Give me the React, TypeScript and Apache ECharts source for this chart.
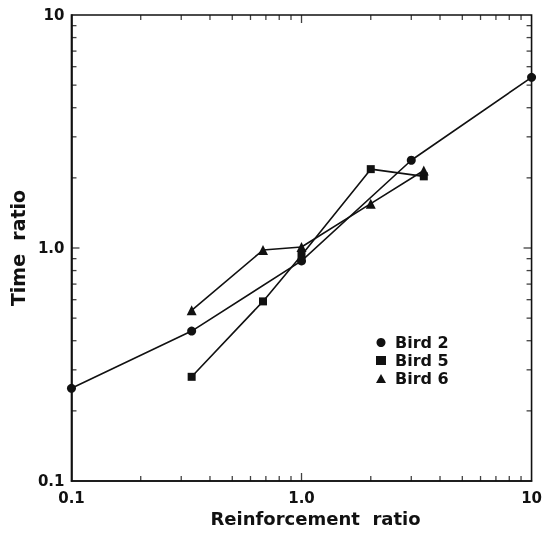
import React, { useEffect, useRef } from "react";
import * as echarts from "echarts";

const bird2X = [0.1, 0.333, 1.0, 3.0, 10];
const bird2Y = [0.25, 0.44, 0.88, 2.38, 5.4];
const bird5X = [0.333, 0.68, 1.0, 2.0, 3.4];
const bird5Y = [0.28, 0.59, 0.93, 2.18, 2.03];
const bird6X = [0.333, 0.68, 1.0, 2.0, 3.4];
const bird6Y = [0.54, 0.98, 1.01, 1.55, 2.15];

const seriesNames = ["Bird 2", "Bird 5", "Bird 6"];
const seriesSymbols = ["circle", "rect", "triangle"];
const xTickLabels = ["0.1", "1.0", "10"];
const yTickLabels = ["0.1", "1.0", "10"];
const minorTickValues = [0.2, 0.3, 0.4, 0.5, 0.6, 0.7, 0.8, 0.9, 2, 3, 4, 5, 6, 7, 8, 9];
const majorTickValues = [1];
const axisMin = 0.1;
const axisMax = 10;

const FONT = "DejaVu Sans";
const INK = "#111";

export default function App() {
  const ref = useRef<HTMLDivElement>(null);
  useEffect(() => {
    if (!ref.current) return;
    const chart = echarts.init(ref.current, null, { renderer: "svg" });
    const zip = (xs: number[], ys: number[]) => xs.map((x, i) => [x, ys[i]]);

    const sizes = [9, 8, 10];
    const birdSeries: any[] = [zip(bird2X, bird2Y), zip(bird5X, bird5Y), zip(bird6X, bird6Y)].map((d, i) => ({
      type: "line",
      name: seriesNames[i],
      data: d,
      symbol: seriesSymbols[i],
      symbolSize: sizes[i],
      showSymbol: true,
      itemStyle: { color: INK },
      lineStyle: { color: INK, width: 1.6 },
      z: 3,
    }));

    // Tick marks as scatter symbols (thin rects) placed on the axes via the log scales.
    const tickSeries = (vals: number[], len: number, tag: string) => {
      const w = 1.3;
      return [
        { data: vals.map((v) => [v, axisMin]), size: [w, len], off: [0, -len / 2] },
        { data: vals.map((v) => [v, axisMax]), size: [w, len], off: [0, len / 2] },
        { data: vals.map((v) => [axisMin, v]), size: [len, w], off: [len / 2, 0] },
        { data: vals.map((v) => [axisMax, v]), size: [len, w], off: [-len / 2, 0] },
      ].map((s, k) => ({
        type: "scatter",
        name: "tick-" + tag + k,
        data: s.data,
        symbol: "rect",
        symbolSize: s.size,
        symbolOffset: s.off,
        silent: true,
        clip: false,
        itemStyle: { color: INK },
        z: 2,
      }));
    };

    chart.setOption({
      animation: false,
      grid: { left: 70, top: 15, right: 10, bottom: 57, show: true, borderColor: INK, borderWidth: 1.6 },
      legend: {
        orient: "vertical",
        left: 371,
        top: 329,
        itemWidth: 10,
        itemHeight: 9,
        itemGap: 1,
        selectedMode: false,
        data: seriesNames.map((n, i) => ({ name: n, icon: seriesSymbols[i] })),
        textStyle: { fontFamily: FONT, fontSize: 16, fontWeight: "bold", color: INK, lineHeight: 17, padding: [0, 0, 0, 4] },
        itemStyle: { color: INK },
      },
      xAxis: {
        type: "log",
        logBase: 10,
        min: axisMin,
        max: axisMax,
        name: "Reinforcement  ratio",
        nameLocation: "middle",
        nameGap: 21,
        nameTextStyle: { fontFamily: FONT, fontSize: 18, fontWeight: "bold", color: INK, padding: [0, 0, 0, 28] },
        axisLine: { show: true, lineStyle: { color: INK, width: 1.6 } },
        axisTick: { show: false },
        splitLine: { show: false },
        axisLabel: {
          fontFamily: FONT,
          fontSize: 15,
          fontWeight: "bold",
          color: INK,
          margin: 9,
          formatter: (_v: number, i: number) => xTickLabels[i] ?? "",
        },
      },
      yAxis: {
        type: "log",
        logBase: 10,
        min: axisMin,
        max: axisMax,
        name: "Time  ratio",
        nameLocation: "middle",
        nameGap: 40,
        nameTextStyle: { fontFamily: FONT, fontSize: 19, fontWeight: "bold", color: INK },
        axisLine: { show: true, lineStyle: { color: INK, width: 1.6 } },
        axisTick: { show: false },
        splitLine: { show: false },
        axisLabel: {
          fontFamily: FONT,
          fontSize: 15,
          fontWeight: "bold",
          color: INK,
          margin: 7,
          formatter: (_v: number, i: number) => yTickLabels[i] ?? "",
        },
      },
      series: [...birdSeries, ...tickSeries(minorTickValues, 5, "m"), ...tickSeries(majorTickValues, 8, "M")],
    });

    return () => chart.dispose();
  }, []);
  return <div ref={ref} style={{ position: "fixed", left: 0, top: 0, width: 545, height: 538 }} />;
}
